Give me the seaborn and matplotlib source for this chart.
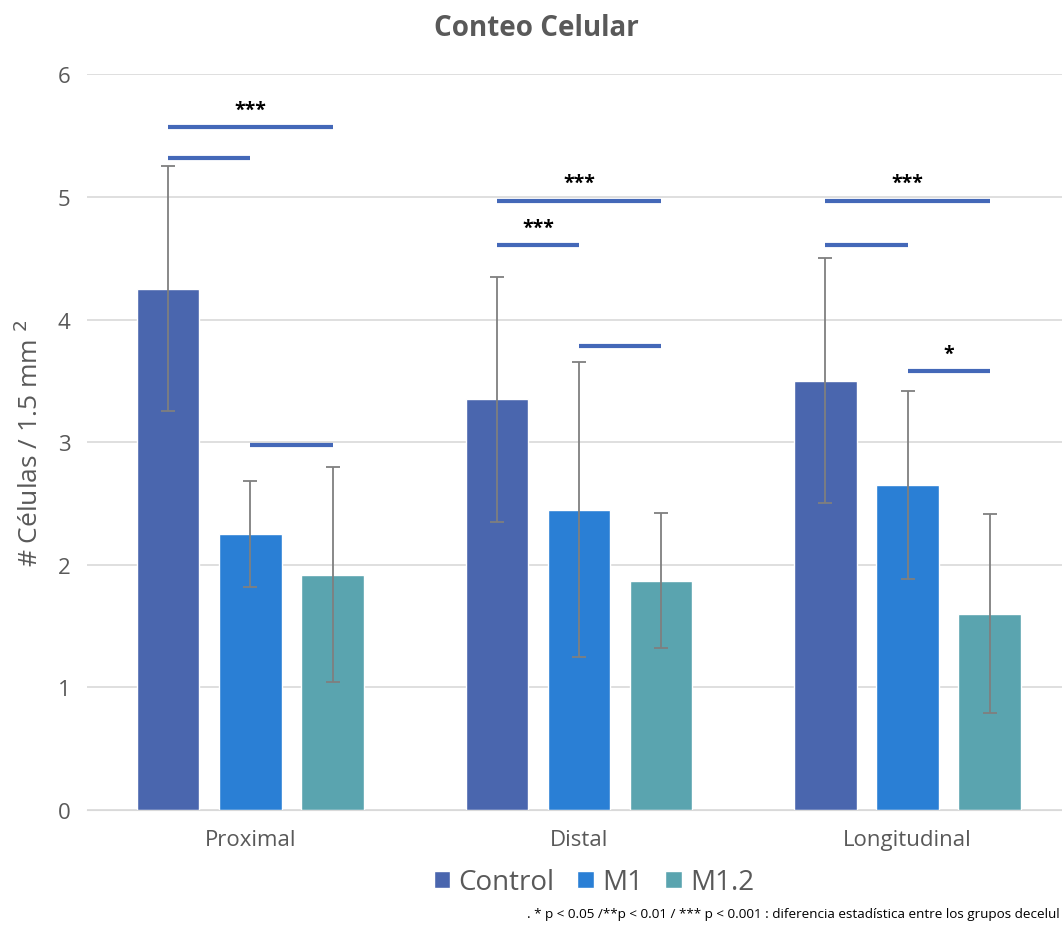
import matplotlib.pyplot as plt
import seaborn as sns
import pandas as pd

# Data
regions = ['Proximal', 'Distal', 'Longitudinal']
groups = ['Control', 'M1', 'M1.2']
means = {
    'Control': [4.25, 3.35, 3.50],
    'M1': [2.25, 2.45, 2.65],
    'M1.2': [1.92, 1.87, 1.60],
}
errors = {
    'Control': [1.00, 1.00, 1.00],
    'M1': [0.43, 1.20, 0.77],
    'M1.2': [0.88, 0.55, 0.81],
}
# significance brackets: region, group from, group to, height, label
sig_region = ['Proximal', 'Proximal', 'Proximal', 'Distal', 'Distal', 'Distal',
              'Longitudinal', 'Longitudinal', 'Longitudinal']
sig_from = ['Control', 'Control', 'M1', 'Control', 'Control', 'M1', 'Control', 'Control', 'M1']
sig_to = ['M1.2', 'M1', 'M1.2', 'M1.2', 'M1', 'M1.2', 'M1.2', 'M1', 'M1.2']
sig_y = [5.57, 5.32, 2.98, 4.97, 4.61, 3.78, 4.97, 4.61, 3.58]
sig_label = ['***', '', '', '***', '***', '', '***', '', '*']

colors = ['#4a66ae', '#2a7fd5', '#5aa4af']

rows = []
for g in groups:
    for i, r in enumerate(regions):
        rows.append({'region': r, 'group': g, 'value': means[g][i], 'err': errors[g][i]})
df = pd.DataFrame(rows)

sns.set_style('white')
plt.rcParams['font.family'] = ['Open Sans', 'DejaVu Sans']

fig = plt.figure(figsize=(10.62, 9.29), dpi=100)
ax = fig.add_axes([0.082, 0.127, 0.918, 0.792])

sns.barplot(data=df, x='region', y='value', hue='group', order=regions, hue_order=groups,
            palette=colors, saturation=1, width=0.75, gap=0.24, errorbar=None, ax=ax, zorder=2)

# bar centers from the drawn patches
centers = {}
for gi, g in enumerate(groups):
    cont = ax.containers[gi]
    for ri, r in enumerate(regions):
        p = cont.patches[ri]
        centers[(r, g)] = p.get_x() + p.get_width() / 2

xs = [centers[(r, g)] for r, g in zip(df['region'], df['group'])]
ax.errorbar(xs, df['value'], yerr=df['err'], fmt='none', ecolor='#7f7f7f',
            elinewidth=1.3, capsize=5, capthick=1.3, zorder=3)

for r, a, b, y, lab in zip(sig_region, sig_from, sig_to, sig_y, sig_label):
    x0, x1 = centers[(r, a)], centers[(r, b)]
    ax.plot([x0, x1], [y, y], color='#4468b8', lw=3, solid_capstyle='butt', zorder=4)
    if lab:
        ax.text((x0 + x1) / 2, y + 0.06, lab, ha='center', va='bottom',
                fontsize=14, fontweight='bold', color='black')

ax.set_ylim(0, 6)
ax.set_xlim(-0.497, 2.47)
ax.set_yticks(range(7))
ax.yaxis.grid(True, color='#d9d9d9', lw=1.2, zorder=0)
ax.set_axisbelow(True)
for s in ['top', 'right', 'left']:
    ax.spines[s].set_visible(False)
ax.spines['bottom'].set_color('#d9d9d9')
ax.tick_params(axis='y', labelsize=16, colors='#595959', length=0, pad=12)
ax.tick_params(axis='x', labelsize=16, colors='#595959', length=0, pad=14)
ax.set_xlabel('')
ax.set_ylabel('# Células / 1.5 mm $^{2}$', fontsize=19, color='#595959', labelpad=10)

fig.suptitle('Conteo Celular', x=0.505, y=0.985, fontsize=20, fontweight='bold', color='#595959')

handles, labels = ax.get_legend_handles_labels()
ax.legend(handles, labels, loc='center', bbox_to_anchor=(0.52, -0.098), ncol=3, frameon=False,
          fontsize=20, handlelength=0.6, handleheight=0.6, handletextpad=0.3, columnspacing=0.8,
          labelcolor='#595959')

# footnote, as far as the reference shows it
fig.text(0.496, 0.016, '. * p < 0.05 /**p < 0.01 / *** p < 0.001 : diferencia estadística entre los grupos decelul',
         fontsize=9.7, color='black', ha='left', va='center')

fig.savefig('out.png', dpi=100)
